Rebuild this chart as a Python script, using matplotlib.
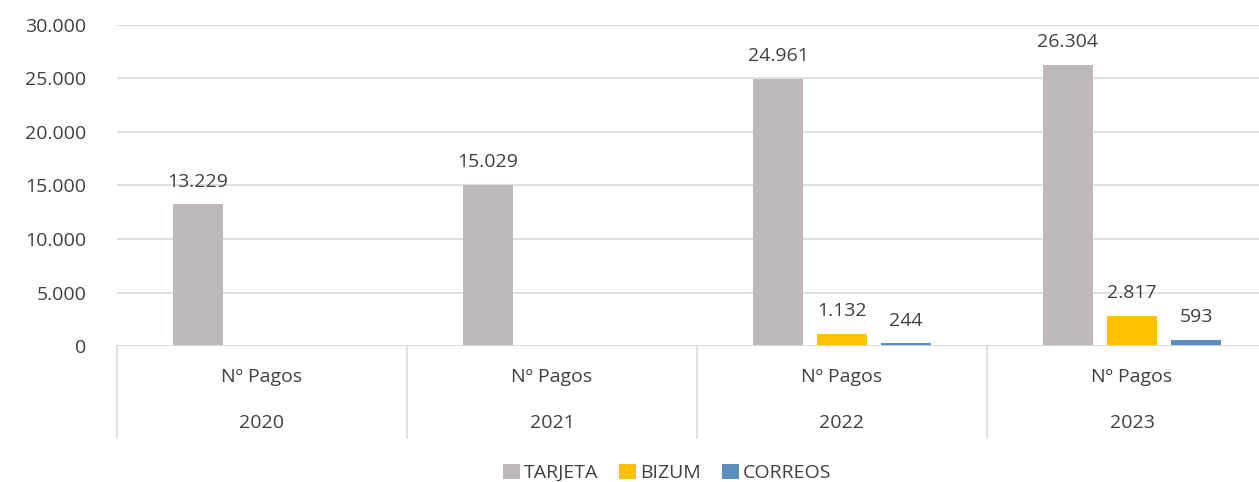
import matplotlib.pyplot as plt
import matplotlib.transforms as mtransforms
from matplotlib.patches import Patch
import numpy as np

## Data

years = ['2020', '2021', '2022', '2023']
sub_label = 'Nº Pagos'
tarjeta = [13229, 15029, 24961, 26304]
bizum = [0, 0, 1132, 2817]
correos = [0, 0, 244, 593]
series = [('TARJETA', tarjeta, '#BFB9B9'),
          ('BIZUM', bizum, '#FFC000'),
          ('CORREOS', correos, '#5B8DBD')]

text_col = '#404040'
grid_col = '#D9D9D9'
fs = 14

plt.rcParams['font.family'] = ['Open Sans', 'DejaVu Sans']

fig = plt.figure(figsize=(12.59, 4.82), dpi=100)
# plot area runs a bit past the right edge of the picture, like the original crop
ax = fig.add_axes([117/1259, 1 - 346/482, 1160/1259, 321/482])

x = np.arange(len(years)) + 0.5
width = 50/290
step = 64/290

def fmt(v):
    return f'{v:,}'.replace(',', '.')

for i, (name, vals, col) in enumerate(series):
    pos = x + (i - 1) * step
    ax.bar(pos, vals, width=width, color=col, zorder=3)
    for p, v in zip(pos, vals):
        if v > 0:
            ax.annotate(fmt(v), (p, v), xytext=(0, 10), textcoords='offset points',
                        ha='center', va='bottom', fontsize=fs, color=text_col)

ax.set_xlim(0, 4)
ax.set_ylim(0, 30000)
ticks = np.arange(0, 30001, 5000)
ax.set_yticks(ticks)
ax.set_yticklabels([fmt(t) for t in ticks], fontsize=fs, color=text_col)
ax.tick_params(axis='y', length=0, pad=22)
ax.set_xticks([])
ax.grid(axis='y', color=grid_col, linewidth=1.2, zorder=0)
for s in ax.spines.values():
    s.set_visible(False)
ax.axhline(0, color=grid_col, linewidth=1.2, zorder=4)

## Two-level category axis

trans = mtransforms.blended_transform_factory(ax.transData, ax.transAxes)
bottom = -92/321
for b in range(len(years) + 1):
    ax.plot([b, b], [0, bottom], color=grid_col, linewidth=1.2,
            transform=trans, clip_on=False)
for xi, yr in zip(x, years):
    ax.text(xi, -31/321, sub_label, transform=trans, ha='center', va='center',
            fontsize=fs, color=text_col)
    ax.text(xi, -77/321, yr, transform=trans, ha='center', va='center',
            fontsize=fs, color=text_col)

handles = [Patch(facecolor=c, label=n) for n, _, c in series]
fig.legend(handles=handles, loc='center', bbox_to_anchor=(667/1259, 1 - 473/482),
           ncol=3, frameon=False, fontsize=fs, labelcolor=text_col,
           handlelength=0.85, handleheight=0.85, handletextpad=0.2, columnspacing=1.1)

fig.savefig('out.png', dpi=100)
